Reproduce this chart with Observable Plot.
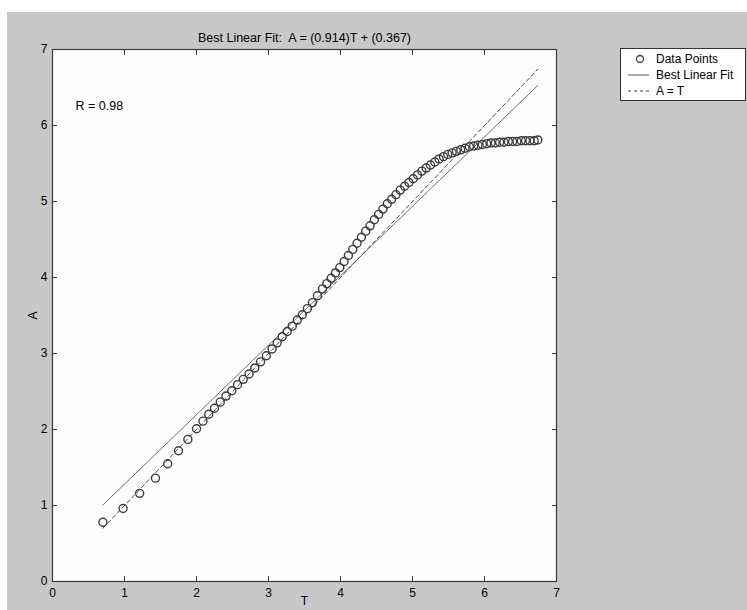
<!DOCTYPE html>
<html><head><meta charset="utf-8">
<script src="https://cdn.jsdelivr.net/npm/d3@7"></script>
<script src="https://cdn.jsdelivr.net/npm/@observablehq/plot@0.6"></script>
<style>
html,body{margin:0;padding:0;background:#fff;}
#wrap{position:relative;width:747px;height:610px;overflow:hidden;font-family:"Liberation Sans",Arial,sans-serif;}
#bg{position:absolute;left:7px;top:12px;right:0;bottom:0;background:#c8c8c8;}
#chart{position:absolute;left:0;top:0;}
#legend{position:absolute;left:620px;top:48px;width:124px;height:51px;border:1px solid #333;background:#fff;}
#legend svg{display:block;}
</style></head><body>
<div id="wrap"><div id="bg"></div><div id="chart"></div><div id="legend"></div></div>
<script>
// Data points (targets T, outputs A)
const T = [0.70,0.98,1.21,1.43,1.60,1.75,1.88,2.00,2.09,2.17,2.25,2.33,2.41,2.49,2.57,2.65,2.73,2.81,2.89,2.97,
  3.05,3.12,3.19,3.26,3.33,3.40,3.47,3.54,3.61,3.68,3.75,3.81,3.87,3.93,3.99,4.05,4.11,4.17,4.23,4.29,
  4.35,4.41,4.47,4.53,4.59,4.65,4.71,4.77,4.83,4.89,4.95,5.01,5.07,5.13,5.19,5.25,5.31,5.37,5.43,5.49,
  5.55,5.61,5.67,5.73,5.79,5.85,5.91,5.97,6.03,6.09,6.15,6.21,6.27,6.33,6.39,6.45,6.51,6.57,6.63,6.69,6.74];
const A = [0.78,0.96,1.16,1.36,1.55,1.72,1.87,2.01,2.11,2.20,2.28,2.36,2.44,2.51,2.59,2.66,2.73,2.81,2.89,2.97,
  3.06,3.14,3.22,3.29,3.36,3.44,3.51,3.59,3.67,3.76,3.85,3.92,3.99,4.06,4.13,4.21,4.29,4.37,4.45,4.53,
  4.61,4.68,4.76,4.83,4.90,4.97,5.03,5.09,5.15,5.20,5.25,5.30,5.35,5.40,5.44,5.48,5.52,5.56,5.59,5.62,
  5.64,5.66,5.68,5.70,5.72,5.73,5.74,5.75,5.76,5.77,5.77,5.78,5.78,5.79,5.79,5.79,5.80,5.80,5.80,5.80,5.81];
// Best linear fit endpoints: A = (0.914)T + (0.367)
const fitT = [0.70, 6.74];
const fitA = [1.007, 6.527];
// A = T line endpoints
const idT = [0.70, 6.74];
const idA = [0.70, 6.74];
const xTicks = [0,1,2,3,4,5,6,7];
const yTicks = [0,1,2,3,4,5,6,7];
const titleText = "Best Linear Fit:  A = (0.914)T + (0.367)";
const rText = "R = 0.98";
const legendItems = ["Data Points", "Best Linear Fit", "A = T"];

const points = T.map((t,i)=>({T:t, A:A[i]}));
const fitLine = fitT.map((t,i)=>({T:t, A:fitA[i]}));
const idLine = idT.map((t,i)=>({T:t, A:idA[i]}));
const axisColor = "#3a3a3a";

const chart = Plot.plot({
  width: 747, height: 610,
  marginLeft: 52, marginRight: 191, marginTop: 49, marginBottom: 29,
  x: {domain: [0,7]},
  y: {domain: [0,7]},
  style: {background: "transparent", fontFamily: "'Liberation Sans', Arial, sans-serif", fontSize: "12px", color: "#000", overflow: "visible"},
  marks: [
    Plot.frame({fill: "#fdfdfd", stroke: null}),
    Plot.line(fitLine, {x: "T", y: "A", stroke: "#6e6e6e", strokeWidth: 1}),
    Plot.line(idLine, {x: "T", y: "A", stroke: "#4a4a4a", strokeWidth: 1, strokeDasharray: "4,3"}),
    Plot.dot(points, {x: "T", y: "A", r: 4, stroke: "#3c3c3c", strokeWidth: 1.4, fill: "none"}),
    Plot.frame({stroke: axisColor, strokeWidth: 1.2}),
    // inward ticks on all four sides
    Plot.axisX({anchor: "bottom", ticks: xTicks, tickSize: 5, dy: -5, fill: "none", stroke: axisColor, label: null}),
    Plot.axisX({anchor: "top", ticks: xTicks, tickSize: 5, dy: 5, fill: "none", stroke: axisColor, label: null}),
    Plot.axisY({anchor: "left", ticks: yTicks, tickSize: 5, dx: 5, fill: "none", stroke: axisColor, label: null}),
    Plot.axisY({anchor: "right", ticks: yTicks, tickSize: 5, dx: -5, fill: "none", stroke: axisColor, label: null}),
    // tick labels and axis titles
    Plot.axisX({anchor: "bottom", ticks: xTicks, tickSize: 0, tickPadding: 7, tickFormat: d => String(d),
      label: "T", labelAnchor: "center", labelOffset: 23, labelArrow: "none", fontSize: 12}),
    Plot.axisY({anchor: "left", ticks: yTicks, tickSize: 0, tickPadding: 5, tickFormat: d => String(d),
      label: "A", labelAnchor: "center", labelOffset: 24, labelArrow: "none", fontSize: 12}),
    Plot.text([titleText], {text: d => d, frameAnchor: "top", dy: -16, fontSize: 12.5, fill: "#000"}),
    Plot.text([rText], {text: d => d, frameAnchor: "top-left", dx: 23, dy: 52, textAnchor: "start", fontSize: 12.5, fill: "#000"})
  ]
});
document.getElementById("chart").appendChild(chart);

// Legend
const lg = d3.select("#legend").append("svg").attr("width", 124).attr("height", 51);
const rowsY = [10, 26, 42];
lg.append("circle").attr("cx", 19).attr("cy", rowsY[0]).attr("r", 3.5).attr("fill", "none").attr("stroke", "#404040").attr("stroke-width", 1.3);
lg.append("line").attr("x1", 7).attr("x2", 28).attr("y1", rowsY[1]).attr("y2", rowsY[1]).attr("stroke", "#555").attr("stroke-width", 1);
lg.append("line").attr("x1", 7).attr("x2", 28).attr("y1", rowsY[2]).attr("y2", rowsY[2]).attr("stroke", "#444").attr("stroke-width", 1).attr("stroke-dasharray", "3,3");
legendItems.forEach((t, i) => {
  lg.append("text").attr("x", 35).attr("y", rowsY[i]).attr("dy", "0.35em")
    .attr("font-family", "'Liberation Sans', Arial, sans-serif").attr("font-size", 12).attr("fill", "#000").text(t);
});
</script>
</body></html>
